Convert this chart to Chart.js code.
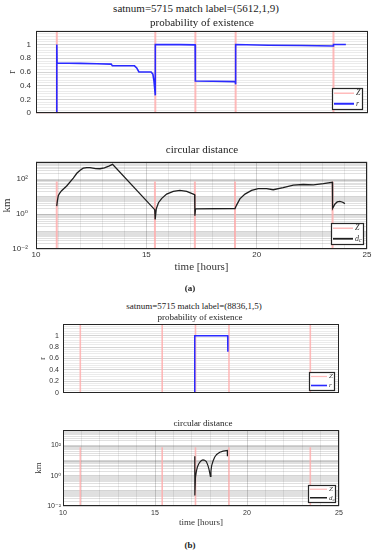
<!DOCTYPE html>
<html>
<head>
<meta charset="utf-8">
<script src="https://cdn.jsdelivr.net/npm/chart.js@4"></script>
<style>
  body { margin: 0; background: #fff; width: 379px; height: 550px; position: relative; overflow: hidden; font-family: "Liberation Serif", serif; color: #222; }
  canvas { position: absolute; left: 0; }
  .t { position: absolute; white-space: nowrap; transform: translate(-50%, -50%); line-height: 1; }
</style>
</head>
<body>
<canvas id="probA"></canvas>
<canvas id="distA"></canvas>
<canvas id="probB"></canvas>
<canvas id="distB"></canvas>

<div class="t" style="left:196px;top:8px;font-size:11px">satnum=5715 match label=(5612,1,9)</div>
<div class="t" style="left:202px;top:22px;font-size:11px">probability of existence</div>
<div class="t" style="left:202px;top:149px;font-size:11px">circular distance</div>
<div class="t" style="left:190px;top:288px;font-size:9px;font-weight:bold">(a)</div>
<div class="t" style="left:194px;top:306px;font-size:9px">satnum=5715 match label=(8836,1,5)</div>
<div class="t" style="left:200px;top:317px;font-size:9px">probability of existence</div>
<div class="t" style="left:203px;top:423px;font-size:9px">circular distance</div>
<div class="t" style="left:190px;top:545px;font-size:9px;font-weight:bold">(b)</div>

<script>
// measurement times (Z), hours
const zTimes = [10.94, 15.39, 17.2, 19.02, 23.44];
const zStart = 10;
const zEnd = 24;
const zTopProb = 1.2;
const zTopDist = 75;

// (a) probability of existence
const probA_t = [10.94, 10.94, 10.95, 12.0, 12.75, 13.4, 13.45, 14.45, 14.55, 14.65,
  15.2, 15.28, 15.33, 15.37, 15.39, 15.39, 16.5, 17.19, 17.2, 18.0,
  19.0, 19.02, 19.02, 20.5, 22.0, 23.43, 23.44, 24.0];
const probA_r = [0, 1, 0.73, 0.725, 0.72, 0.715, 0.69, 0.69, 0.66, 0.60,
  0.60, 0.57, 0.47, 0.33, 0.26, 1.0, 0.998, 0.995, 0.47, 0.465,
  0.46, 0.42, 1.0, 0.99, 0.985, 0.978, 1.0, 1.0];

// (a) circular distance, km
const distA_t = [10.94, 10.97, 11.01, 11.06, 11.16, 11.39, 11.69, 11.85, 12.0, 12.14,
  12.3, 12.45, 12.7, 12.9, 13.1, 13.3, 13.47, 15.38, 15.40, 15.45,
  15.55, 15.7, 15.92, 16.22, 16.52, 16.83, 17.13, 17.19, 17.2, 17.23,
  19.02, 19.09, 19.24, 19.47, 19.77, 20.07, 20.45, 20.75, 21.2, 21.66,
  22.11, 22.57, 23.02, 23.43, 23.44, 23.55, 23.65, 23.77, 23.9, 24.0];
const distA_d = [2.9, 6, 11.5, 15, 22, 41, 117, 220, 331, 430,
  468, 460, 410, 400, 450, 560, 708, 1.8, 0.49, 2.0,
  4.5, 8, 14, 20, 23, 20, 14, 13, 0.8, 2.0,
  2.1, 3.3, 7.5, 14, 23, 29, 29, 25, 33, 46,
  50, 48, 56, 67, 2.1, 3.8, 5.0, 5.4, 4.8, 4.0];

// (b) probability of existence
const probB_t = [17.16, 17.16, 17.16, 17.18, 18.95, 18.96];
const probB_r = [0, 0.5, 1.0, 1.0, 1.0, 0.72];

// (b) circular distance, km
const distB_t = [17.16, 17.165, 17.2, 17.25, 17.3, 17.36, 17.43, 17.52, 17.61, 17.7,
  17.79, 17.87, 17.93, 17.98, 18.01, 18.04, 18.08, 18.15, 18.24, 18.35,
  18.52, 18.7, 18.88, 18.93, 18.935];
const distB_d = [19, 0.05, 0.8, 2.0, 3.6, 5.5, 7.7, 10, 11, 10.5,
  8.5, 5, 2.8, 1.4, 0.9, 2.0, 4.6, 9, 16.5, 25,
  35, 42, 45, 46, 19];

// axes
const xTickLabels = [10, 15, 20, 25];
const probTickLabels = [0, 0.2, 0.4, 0.6, 0.8, 1];
const logTickLabels = [0.01, 1, 100];
const logTickText = ['10\u207B\u00B2', '10\u2070', '10\u00B2'];
const probLegend = ['Z', 'r'];
const distLegend = ['Z', 'd'];

const PINK = 'rgba(255,170,170,0.8)';
const BLUE = '#2a2aff';
const DARK = '#1e1e1e';
const TXT = '#333';
const GRID_MAJOR = 'rgba(0,0,0,0.17)';
const GRID_MINOR = 'rgba(0,0,0,0.08)';
const GRID_LOG_MINOR = 'rgba(0,0,0,0.12)';

function pts(xs, ys) {
  return xs.map((x, i) => ({ x, y: ys[i] }));
}

function zSeries(lo, hi, base) {
  const out = [];
  if (base) out.push({ x: zStart, y: lo });
  zTimes.forEach((t) => {
    out.push({ x: t, y: lo }, { x: t, y: hi }, { x: t, y: base ? lo : null });
  });
  if (base) out.push({ x: zEnd, y: lo });
  return out;
}

const near = (a, b) => Math.abs(a - b) < 1e-9;

const framePlugin = {
  id: 'frame',
  afterDraw(chart) {
    const { ctx, chartArea: a } = chart;
    ctx.save();
    ctx.strokeStyle = '#262626';
    ctx.lineWidth = 1;
    ctx.strokeRect(Math.round(a.left) + 0.5, Math.round(a.top) + 0.5,
      Math.round(a.right - a.left) - 1, Math.round(a.bottom - a.top) - 1);
    ctx.restore();
  },
};

function legendPlugin(labels, colors, widths, lg) {
  return {
    id: 'boxLegend',
    afterDraw(chart) {
      const { ctx, chartArea: a } = chart;
      const x = Math.round(a.right - lg.rIn - lg.w);
      const y = Math.round(a.bottom - lg.bIn - lg.h);
      ctx.save();
      ctx.fillStyle = '#fff';
      ctx.fillRect(x, y, lg.w, lg.h);
      ctx.strokeStyle = '#262626';
      ctx.lineWidth = 1.2;
      ctx.strokeRect(x + 0.5, y + 0.5, lg.w, lg.h);
      labels.forEach((lab, i) => {
        const cy = y + (lg.h * (2 * i + 1)) / 4;
        ctx.strokeStyle = colors[i];
        ctx.lineWidth = widths[i];
        ctx.beginPath();
        ctx.moveTo(x + 2, cy);
        ctx.lineTo(x + lg.w - lg.textW, cy);
        ctx.stroke();
        ctx.fillStyle = TXT;
        ctx.font = `italic ${lg.font}px "Liberation Serif"`;
        ctx.textAlign = 'left';
        ctx.textBaseline = 'middle';
        const tx = x + lg.w - lg.textW + 2;
        ctx.fillText(lab, tx, cy);
        if (lab === 'd') {
          const w = ctx.measureText(lab).width;
          ctx.font = `italic ${Math.round(lg.font * 0.7)}px "Liberation Serif"`;
          ctx.fillText('c', tx + w, cy + 2);
        }
      });
      ctx.restore();
    },
  };
}

function makeChart(id, g, datasets, yScale, showX, legend) {
  const cv = document.getElementById(id);
  const w = g.R + g.pr;
  const h = g.B - g.T + g.pt + g.xh;
  cv.width = w;
  cv.height = h;
  cv.style.width = w + 'px';
  cv.style.height = h + 'px';
  cv.style.top = g.T - g.pt + 'px';

  const xScale = {
    type: 'linear',
    min: 10,
    max: 25,
    afterBuildTicks: (s) => {
      const t = [];
      for (let v = 10; v <= 25; v++) t.push({ value: v });
      s.ticks = t;
    },
    afterFit: (s) => { s.height = g.xh; },
    border: { display: false },
    grid: {
      display: showX,
      drawTicks: false,
      color: (c) => (xTickLabels.includes(c.tick.value) ? GRID_MAJOR : GRID_MINOR),
    },
    ticks: {
      display: showX,
      autoSkip: false,
      maxRotation: 0,
      padding: g.xPad,
      color: TXT,
      font: { family: '"Liberation Sans", sans-serif', size: g.tick },
      callback: (v) => (xTickLabels.includes(v) ? String(v) : ''),
    },
    title: {
      display: showX,
      text: 'time [hours]',
      color: TXT,
      font: { family: '"Liberation Serif", serif', size: g.xTitle },
      padding: { top: 0, bottom: 0 },
    },
  };

  yScale.afterFit = (s) => { s.width = g.L; };
  yScale.border = { display: false };
  yScale.ticks.padding = g.yPad;
  yScale.ticks.color = TXT;
  yScale.ticks.autoSkip = false;
  yScale.ticks.font = { family: '"Liberation Sans", "DejaVu Sans", sans-serif', size: g.tick };
  yScale.title.color = TXT;
  yScale.title.padding = { top: g.yTitlePad, bottom: 0 };

  return new Chart(cv, {
    type: 'line',
    data: { datasets },
    options: {
      responsive: false,
      animation: false,
      devicePixelRatio: 1,
      layout: { padding: { top: g.pt, right: g.pr, left: 0, bottom: 0 } },
      elements: { point: { radius: 0 }, line: { tension: 0 } },
      plugins: { legend: { display: false }, tooltip: { enabled: false } },
      scales: { x: xScale, y: yScale },
    },
    plugins: [framePlugin, legend],
  });
}

function probY(size, titlePx) {
  return {
    type: 'linear',
    min: 0,
    max: zTopProb,
    afterBuildTicks: (s) => {
      const t = [];
      for (let i = 0; i <= 30; i++) t.push({ value: Math.round(i * 4) / 100 });
      s.ticks = t;
    },
    grid: {
      drawTicks: false,
      color: (c) => (probTickLabels.some((v) => near(v, c.tick.value)) ? GRID_MAJOR : GRID_MINOR),
    },
    ticks: {
      callback: (v) => (probTickLabels.some((p) => near(p, v)) ? String(v) : ''),
    },
    title: { display: true, text: 'r', font: { family: '"Liberation Serif", serif', size: titlePx } },
  };
}

function logY(titlePx) {
  return {
    type: 'logarithmic',
    min: 0.01,
    max: 1000,
    afterBuildTicks: (s) => {
      const t = [];
      for (let e = -2; e <= 2; e++) {
        for (let k = 1; k <= 9; k++) t.push({ value: k * Math.pow(10, e) });
      }
      t.push({ value: 1000 });
      s.ticks = t;
    },
    grid: {
      drawTicks: false,
      color: (c) => {
        const l = Math.log10(c.tick.value);
        return near(l, Math.round(l)) ? GRID_MAJOR : GRID_LOG_MINOR;
      },
    },
    ticks: {
      callback: (v) => {
        const i = logTickLabels.findIndex((p) => Math.abs(p - v) / p < 1e-6);
        return i >= 0 ? logTickText[i] : '';
      },
    },
    title: { display: true, text: 'km', font: { family: '"Liberation Serif", serif', size: titlePx } },
  };
}

function probSets(t, r, zw, rw) {
  return [
    { data: pts(t, r), borderColor: BLUE, borderWidth: rw, spanGaps: false },
    { data: zSeries(0, zTopProb, true), borderColor: PINK, borderWidth: zw, spanGaps: false },
  ];
}

function distSets(t, d, zw, dw) {
  return [
    { data: pts(t, d), borderColor: DARK, borderWidth: dw, spanGaps: false },
    { data: zSeries(0.01, zTopDist, false), borderColor: PINK, borderWidth: zw, spanGaps: false },
  ];
}

makeChart('probA',
  { L: 36, T: 29, R: 368, B: 121, pt: 8, pr: 8, xh: 2, tick: 8, xTitle: 11, xPad: 1, yPad: 5, yTitlePad: 6 },
  probSets(probA_t, probA_r, 2, 1.6), probY(8, 10), false,
  legendPlugin(probLegend, [PINK, BLUE], [1.5, 2], { rIn: 6, bIn: 4, w: 30, h: 21, textW: 8, font: 8 }));

makeChart('distA',
  { L: 36, T: 157, R: 367, B: 249, pt: 8, pr: 8, xh: 25, tick: 8, xTitle: 11, xPad: 1, yPad: 8, yTitlePad: 1 },
  distSets(distA_t, distA_d, 2, 1.3), logY(11), true,
  legendPlugin(distLegend, [PINK, DARK], [1.5, 1.8], { rIn: 4, bIn: 5, w: 32, h: 21, textW: 10, font: 8 }));

makeChart('probB',
  { L: 63, T: 324, R: 339, B: 399, pt: 8, pr: 8, xh: 2, tick: 7, xTitle: 9, xPad: 1, yPad: 4, yTitlePad: 38 },
  probSets(probB_t, probB_r, 1.6, 1.5), probY(7, 8), false,
  legendPlugin(probLegend, [PINK, BLUE], [1.2, 1.6], { rIn: 5, bIn: 3, w: 25, h: 18, textW: 7, font: 7 }));

makeChart('distB',
  { L: 63, T: 430, R: 339, B: 506, pt: 6, pr: 8, xh: 22, tick: 7, xTitle: 9, xPad: 3, yPad: 2, yTitlePad: 33 },
  distSets(distB_t, distB_d, 1.6, 1.2), logY(9), true,
  legendPlugin(distLegend, [PINK, DARK], [1.2, 1.5], { rIn: 4, bIn: 4, w: 27, h: 17, textW: 8, font: 7 }));
</script>
</body>
</html>
